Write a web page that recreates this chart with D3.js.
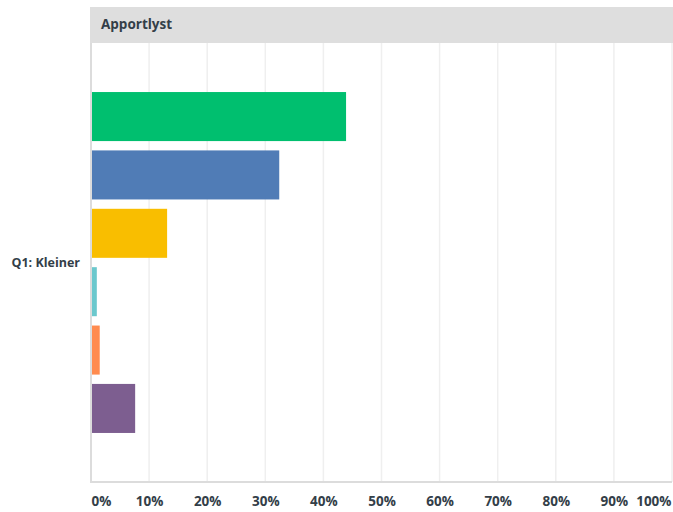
<!DOCTYPE html>
<html>
<head>
<meta charset="utf-8">
<script src="https://cdn.jsdelivr.net/npm/d3@7"></script>
<style>
  html, body { margin: 0; padding: 0; background: #fff; }
  svg { display: block; }
  text { font-family: "Open Sans", "Noto Sans", sans-serif; font-weight: 700; fill: #333e48; }
</style>
</head>
<body>
<svg id="chart" width="673" height="512"></svg>
<script>
// Answer shares (percent) for Q1, one bar per answer option
const question = "Q1: Kleiner";
const groupTitle = "Apportlyst";
const answers = ["a1", "a2", "a3", "a4", "a5", "a6"];
const values = [43.9, 32.4, 13.1, 1.0, 1.5, 7.6];
const colors = ["#00bf6f", "#507cb6", "#f9be00", "#6bc8cd", "#ff8b4f", "#7d5e90"];
const tickValues = [0, 10, 20, 30, 40, 50, 60, 70, 80, 90, 100];

const svg = d3.select("#chart");
const plotLeft = 91, plotRight = 672, plotTop = 43, plotBottom = 482;

const x = d3.scaleLinear().domain([0, 100]).range([plotLeft, plotRight]);
const y = d3.scaleBand().domain(answers).range([plotTop, plotBottom])
  .paddingInner(0.16).paddingOuter(0.84);

// header band
svg.append("rect").attr("x", 90).attr("y", 7).attr("width", 583).attr("height", 36)
  .attr("fill", "#dedede");
svg.append("text").attr("x", 101).attr("y", 29).attr("font-size", 13.5).text(groupTitle);

// vertical grid
svg.append("g").selectAll("line").data(tickValues.slice(1)).join("line")
  .attr("x1", d => x(d)).attr("x2", d => x(d))
  .attr("y1", plotTop).attr("y2", plotBottom)
  .attr("stroke", "#efefef").attr("stroke-width", 1.5);

// bars
svg.append("g").selectAll("rect").data(values).join("rect")
  .attr("x", x(0))
  .attr("y", (d, i) => y(answers[i]))
  .attr("width", d => x(d) - x(0))
  .attr("height", y.bandwidth())
  .attr("fill", (d, i) => colors[i]);

// axis lines
svg.append("line").attr("x1", 91).attr("x2", 91).attr("y1", plotTop).attr("y2", plotBottom + 1)
  .attr("stroke", "#dcdcdc").attr("stroke-width", 2);
svg.append("line").attr("x1", 90).attr("x2", plotRight).attr("y1", plotBottom).attr("y2", plotBottom)
  .attr("stroke", "#dcdcdc").attr("stroke-width", 2);

// x tick labels
const xAxis = d3.axisBottom(x).tickValues(tickValues).tickSize(0).tickFormat(d => d + "%");
const gx = svg.append("g").attr("transform", `translate(0,${plotBottom})`).call(xAxis);
gx.select(".domain").remove();
gx.selectAll("text")
  .attr("font-size", 13.5).attr("font-family", null).attr("fill", null)
  .attr("dy", null).attr("y", 24)
  .attr("text-anchor", d => d === 0 ? "start" : d === 100 ? "end" : "middle")
  .attr("dx", d => d === 100 ? -1 : 0);
gx.attr("font-size", null).attr("font-family", null);

// category label
svg.append("text").attr("x", 80).attr("y", (plotTop + plotBottom) / 2 + 4.5)
  .attr("text-anchor", "end").attr("font-size", 12.5).text(question);
</script>
</body>
</html>
